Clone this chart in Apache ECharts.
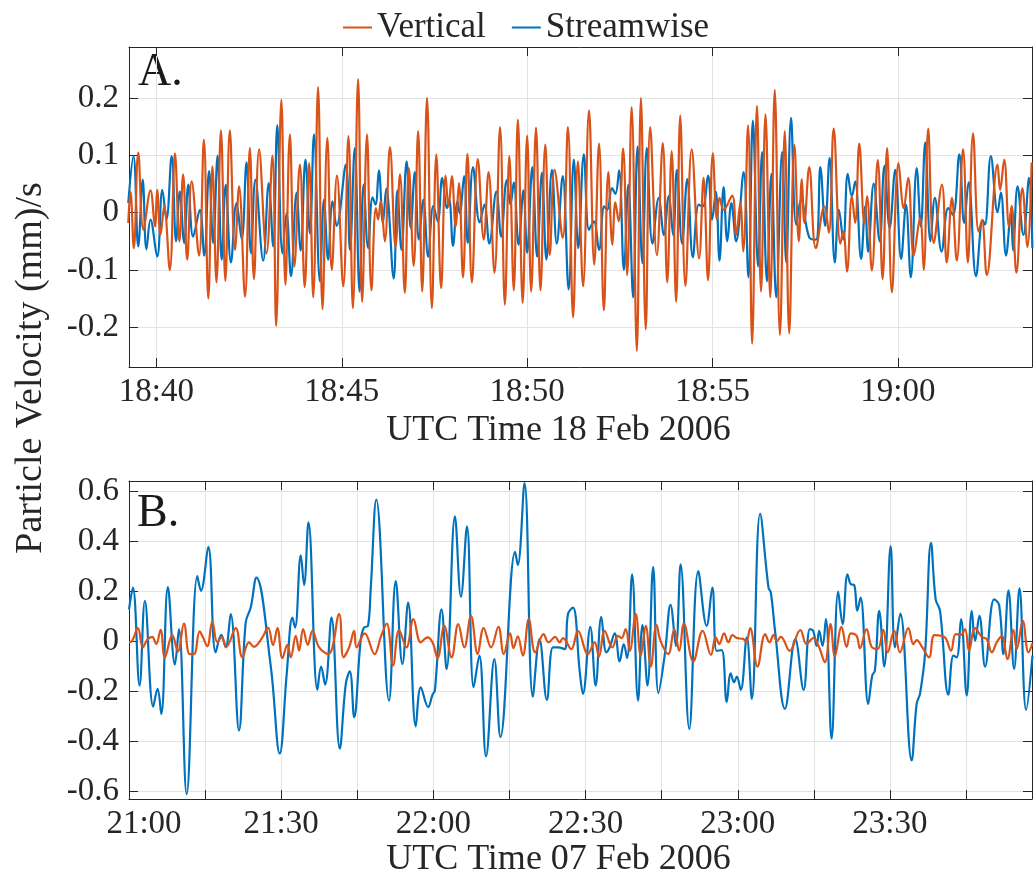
<!DOCTYPE html>
<html>
<head>
<meta charset="utf-8">
<title>Particle Velocity</title>
<script src="https://cdn.jsdelivr.net/npm/echarts@6/dist/echarts.min.js"></script>
<style>
  html, body { margin: 0; padding: 0; background: #fff; }
  #main { width: 1034px; height: 879px; }
</style>
</head>
<body>
<div id="main"></div>
<script>
// panel A: x = minutes after 18:00 UTC, 18 Feb 2006
var ticksA = [40, 45, 50, 55, 60];
var yTicksA = [-0.2, -0.1, 0, 0.1, 0.2];
// panel B: x = minutes after 21:00 UTC, 07 Feb 2006
var ticksB = [0, 15, 30, 45, 60, 75, 90, 105, 120, 135, 150, 165];
var labelsB = [0, 30, 60, 90, 120, 150];
var yTicksB = [-0.6, -0.4, -0.2, 0, 0.2, 0.4, 0.6];

// [minute, mm/s]
var vertA = [
  [39.24,-0.018],[39.30,0.037],[39.39,-0.062],[39.51,0.105],[39.65,-0.030],[39.84,0.039],[39.96,-0.024],[40.02,0.040],
  [40.11,-0.039],[40.21,0.011],[40.36,-0.100],[40.50,0.104],[40.62,-0.050],[40.72,0.067],[40.83,-0.082],[40.95,0.055],
  [41.15,-0.075],[41.28,0.128],[41.40,-0.150],[41.51,0.081],[41.62,-0.122],[41.74,0.144],[41.86,-0.119],[41.98,0.144],
  [42.12,-0.065],[42.23,0.046],[42.39,-0.147],[42.52,0.113],[42.63,-0.116],[42.77,0.111],[42.97,-0.071],[43.13,0.100],
  [43.23,-0.198],[43.37,0.198],[43.48,-0.126],[43.60,0.137],[43.72,-0.094],[43.87,0.084],[44.00,-0.130],[44.12,0.087],
  [44.23,-0.148],[44.36,0.220],[44.48,-0.169],[44.61,0.131],[44.73,-0.100],[44.87,0.065],[45.04,-0.129],[45.18,0.134],
  [45.30,-0.167],[45.44,0.234],[45.55,-0.156],[45.68,0.137],[45.80,-0.136],[45.92,0.008],[45.98,-0.012],[46.05,0.020],
  [46.16,-0.050],[46.30,0.115],[46.45,-0.059],[46.57,0.067],[46.70,-0.140],[46.81,0.078],[46.94,-0.093],[47.06,0.143],
  [47.17,-0.138],[47.30,0.201],[47.43,-0.167],[47.55,0.102],[47.68,-0.132],[47.80,0.065],[47.88,0.011],[47.97,0.064],
  [48.07,-0.024],[48.16,0.052],[48.27,-0.113],[48.39,0.103],[48.51,-0.122],[48.67,0.094],[48.83,-0.047],[48.96,0.071],
  [49.12,-0.105],[49.27,0.150],[49.40,-0.161],[49.52,0.099],[49.64,-0.136],[49.75,0.163],[49.88,-0.158],[50.00,0.135],
  [50.11,-0.138],[50.24,0.149],[50.36,-0.136],[50.49,0.119],[50.61,-0.074],[50.74,0.075],[50.96,-0.044],[51.10,0.150],
  [51.24,-0.183],[51.37,0.090],[51.51,-0.129],[51.67,0.179],[51.81,-0.091],[51.94,0.121],[52.07,-0.171],[52.19,0.071],
  [52.30,-0.056],[52.38,0.018],[52.47,-0.015],[52.59,0.112],[52.70,-0.109],[52.82,0.185],[52.96,-0.242],[53.07,0.201],
  [53.20,-0.204],[53.32,0.150],[53.50,-0.074],[53.66,0.122],[53.78,-0.122],[53.90,0.108],[54.02,-0.156],[54.13,0.170],
  [54.27,-0.128],[54.44,0.111],[54.64,-0.080],[54.76,0.061],[54.88,-0.118],[55.01,0.104],[55.12,-0.012],[55.19,0.026],
  [55.30,0.005],[55.53,0.030],[55.64,-0.039],[55.75,0.017],[55.83,-0.068],[55.96,0.153],[56.07,-0.229],[56.20,0.187],
  [56.31,-0.138],[56.43,0.172],[56.56,-0.148],[56.68,0.215],[56.82,-0.214],[56.95,0.143],[57.07,-0.211],[57.21,0.119],
  [57.33,-0.050],[57.41,0.059],[57.48,-0.018],[57.61,0.080],[57.79,-0.062],[58.02,0.011],[58.14,-0.035],[58.27,0.147],
  [58.45,-0.054],[58.53,-0.033],[58.63,-0.103],[58.76,0.029],[58.85,-0.018],[58.96,0.121],[59.10,-0.019],[59.17,0.029],
  [59.30,-0.101],[59.46,0.092],[59.59,-0.116],[59.71,0.113],[59.84,-0.139],[60.02,0.087],[60.16,0.008],[60.28,0.061],
  [60.43,-0.075],[60.60,-0.009],[60.70,-0.100],[60.82,0.147],[60.97,-0.053],[61.19,0.049],[61.32,-0.087],[61.46,0.026],
  [61.59,-0.084],[61.76,0.111],[61.89,-0.087],[62.03,0.139],[62.18,-0.033],[62.27,-0.013],[62.40,-0.109],[62.69,0.084],
  [62.76,0.040],[62.87,0.093],[63.00,-0.024],[63.07,0.012],[63.20,-0.105],[63.36,0.043],[63.50,-0.060],[63.61,0.088]
];
var streamA = [
  [39.24,0.017],[39.38,0.099],[39.51,-0.059],[39.63,0.058],[39.73,-0.064],[39.84,-0.012],[40.02,-0.077],[40.16,0.040],
  [40.27,-0.012],[40.41,0.099],[40.53,-0.050],[40.63,0.037],[40.75,-0.053],[40.86,0.049],[40.99,-0.042],[41.17,0.005],
  [41.29,-0.075],[41.42,0.073],[41.53,-0.053],[41.65,0.100],[41.76,-0.082],[41.87,0.049],[42.01,-0.087],[42.16,0.017],
  [42.30,-0.046],[42.43,0.088],[42.55,-0.071],[42.67,0.058],[42.88,-0.084],[43.03,0.052],[43.15,-0.059],[43.26,0.153],
  [43.40,-0.071],[43.51,-0.001],[43.63,-0.111],[43.78,0.035],[43.89,-0.066],[44.02,0.093],[44.14,-0.036],[44.25,0.137],
  [44.41,-0.120],[44.52,0.023],[44.63,-0.082],[44.75,0.020],[44.86,-0.023],[45.11,0.084],[45.22,-0.065],[45.35,0.113],
  [45.48,-0.138],[45.59,0.049],[45.71,-0.062],[45.83,0.027],[45.91,0.014],[46.00,0.074],[46.11,-0.018],[46.20,0.042],
  [46.40,-0.115],[46.50,0.039],[46.61,-0.065],[46.75,0.090],[46.86,-0.027],[46.97,0.071],[47.08,-0.047],[47.20,0.023],
  [47.33,-0.077],[47.47,0.012],[47.59,-0.015],[47.71,0.061],[47.84,0.008],[47.90,0.023],[48.00,-0.058],[48.12,0.020],
  [48.18,-0.001],[48.30,0.064],[48.40,-0.053],[48.54,0.080],[48.72,-0.017],[48.85,0.014],[48.98,-0.054],[49.17,0.037],
  [49.30,-0.042],[49.45,0.057],[49.55,0.014],[49.64,0.053],[49.77,-0.056],[49.90,0.039],[50.00,-0.070],[50.14,0.080],
  [50.27,-0.077],[50.40,0.070],[50.52,-0.082],[50.67,0.075],[50.80,-0.054],[50.96,0.064],[51.12,-0.134],[51.26,0.093],
  [51.38,-0.062],[51.53,0.102],[51.67,-0.030],[51.80,-0.015],[51.94,-0.065],[52.08,0.011],[52.16,0.005],[52.29,0.043],
  [52.38,0.033],[52.48,0.074],[52.61,-0.100],[52.73,0.049],[52.86,-0.148],[52.98,0.116],[53.11,-0.088],[53.23,0.113],
  [53.38,-0.054],[53.55,0.026],[53.69,-0.039],[53.82,0.029],[53.94,-0.039],[54.04,0.075],[54.18,-0.054],[54.32,0.059],
  [54.47,-0.078],[54.63,0.014],[54.74,0.011],[54.88,0.065],[54.99,-0.012],[55.09,0.037],[55.19,-0.084],[55.30,0.045],
  [55.40,-0.050],[55.51,0.017],[55.64,-0.050],[55.84,0.071],[55.97,-0.113],[56.09,0.161],[56.23,-0.094],[56.34,0.106],
  [56.47,-0.120],[56.59,0.068],[56.72,-0.148],[56.88,0.106],[56.99,-0.087],[57.12,0.166],[57.26,-0.021],[57.39,0.023],
  [57.61,-0.043],[57.79,-0.047],[57.91,0.080],[58.04,-0.023],[58.16,0.096],[58.30,-0.087],[58.41,0.005],[58.53,-0.047],
  [58.65,0.068],[58.76,0.029],[58.85,0.055],[59.01,-0.081],[59.12,0.011],[59.20,-0.068],[59.35,0.051],[59.51,-0.050],
  [59.64,0.082],[59.78,-0.027],[59.93,0.075],[60.09,-0.081],[60.22,0.014],[60.35,-0.113],[60.51,0.078],[60.62,-0.024],
  [60.74,0.123],[60.88,-0.050],[61.00,0.026],[61.18,-0.068],[61.36,0.008],[61.49,-0.004],[61.66,0.102],[61.79,-0.018],
  [61.91,0.053],[62.11,-0.111],[62.29,-0.013],[62.35,-0.021],[62.51,0.099],[62.69,0.001],[62.78,0.035],[62.92,-0.075],
  [63.05,-0.001],[63.11,-0.066],[63.23,0.046],[63.39,-0.039],[63.54,0.061],[63.63,-0.062]
];
var vertB = [
  [0,-0.005],[0.63,0.001],[1.75,0.052],[2.74,-0.025],[3.59,0.005],[4.58,0.017],[5.37,-0.012],[6.22,0.045],
  [7.08,-0.065],[8.53,0.024],[9.64,-0.042],[10.83,0.070],[11.95,-0.052],[12.80,-0.052],[13.92,0.039],[14.58,0.015],
  [15.43,-0.021],[16.42,0.078],[17.41,-0.005],[18.26,0.015],[19.18,-0.023],[21.03,0.052],[22.34,-0.065],[23.66,-0.005],
  [24.64,-0.023],[26.29,0.015],[27.41,0.054],[28.39,-0.016],[29.25,0.052],[30.24,-0.068],[31.22,-0.015],[31.88,-0.065],
  [32.87,0.021],[33.53,-0.038],[34.32,0.048],[35.24,-0.015],[36.16,0.041],[37.47,-0.025],[39.32,-0.052],[41.42,0.108],
  [42.28,-0.065],[43.39,-0.025],[44.38,0.041],[44.86,-0.025],[46.45,0.031],[48.42,-0.052],[49.61,0.015],[50.80,0.070],
  [52.05,-0.098],[53.24,0.044],[54.69,-0.025],[56.07,0.088],[57.52,-0.005],[58.84,0.015],[59.83,-0.005],[60.82,-0.068],
  [62.14,0.061],[63.59,-0.065],[64.90,0.068],[66.09,-0.025],[67.41,0.101],[68.73,-0.052],[69.91,0.052],[71.37,-0.025],
  [72.82,0.057],[73.87,-0.052],[75.12,0.031],[75.78,-0.028],[76.64,0.019],[77.63,-0.058],[78.81,0.088],[80.07,-0.045],
  [81.71,0.028],[82.70,-0.005],[84.02,0.017],[84.88,-0.005],[85.54,0.012],[87.19,-0.032],[88.50,0.041],[90.47,-0.052],
  [91.78,-0.005],[92.64,-0.062],[93.76,0.041],[95.28,-0.025],[96.40,0.021],[97.06,0.012],[97.91,0.048],[98.71,-0.039],
  [99.89,0.108],[100.88,-0.058],[101.87,0.061],[102.86,-0.102],[103.98,0.065],[104.77,0.001],[106.29,-0.052],[107.47,0.047],
  [108.46,-0.039],[109.38,0.070],[111.23,-0.081],[113.08,0.041],[114.72,-0.055],[115.65,0.015],[116.37,-0.012],[117.30,0.031],
  [118.15,-0.005],[118.94,0.024],[119.80,0.012],[121.12,0.008],[121.65,-0.005],[122.44,0.052],[123.89,-0.102],[125.40,0.028],
  [126.26,-0.005],[127.05,0.025],[127.71,0.001],[128.50,0.017],[130.22,-0.039],[132.33,0.044],[133.55,-0.012],[134.87,0.012],
  [135.99,-0.023],[137.17,-0.085],[138.29,0.068],[139.14,-0.062],[140.46,0.057],[141.45,-0.023],[142.30,0.031],[143.42,0.021],
  [144.08,-0.029],[145.39,0.048],[146.38,-0.023],[147.57,-0.032],[148.68,0.045],[149.54,-0.045],[150.86,0.041],[151.97,-0.045],
  [153.62,0.052],[154.61,-0.012],[155.26,0.004],[156.38,-0.025],[157.70,-0.065],[158.75,0.024],[160.07,0.021],[160.99,0.012],
  [162.04,-0.039],[162.96,0.028],[164.01,0.025],[164.80,0.048],[165.59,-0.039],[166.78,0.052],[168.09,0.017],[169.08,0.008],
  [170.07,-0.045],[171.05,-0.005],[172.04,0.021],[173.16,-0.072],[174.34,0.045],[175.00,-0.032],[176.18,0.081],[177.30,-0.045],
  [178.09,-0.009]
];
var streamB = [
  [0,0.127],[0.76,0.214],[2.08,-0.178],[3.13,0.161],[4.78,-0.262],[5.63,-0.191],[6.36,-0.291],[7.67,0.216],
  [9.05,-0.094],[9.84,0.048],[11.36,-0.612],[13.46,0.260],[14.18,0.201],[15.63,0.377],[17.08,-0.045],[18.20,0.025],
  [19.05,-0.025],[20.04,0.108],[21.68,-0.357],[23.00,0.074],[23.99,0.134],[25.11,0.254],[27.93,-0.098],[29.71,-0.450],
  [31.09,-0.131],[32.21,0.094],[32.74,0.054],[33.86,0.343],[34.51,0.224],[35.37,0.475],[37.14,-0.195],[37.87,-0.102],
  [38.66,-0.174],[39.91,0.094],[41.55,-0.430],[42.74,-0.171],[43.53,-0.121],[44.38,-0.304],[45.66,0.001],[46.32,0.054],
  [47.11,0.061],[47.63,0.201],[48.75,0.566],[51.26,-0.238],[52.58,0.240],[53.90,-0.092],[55.02,0.154],[56.53,-0.341],
  [57.52,-0.185],[58.97,-0.264],[59.83,-0.214],[60.29,-0.198],[61.61,0.127],[62.60,-0.112],[64.25,0.499],[65.43,0.177],
  [66.62,0.459],[67.94,-0.185],[69.06,-0.058],[70.38,-0.461],[72.02,-0.072],[73.21,-0.384],[76.11,0.357],[76.64,0.304],
  [77.96,0.632],[79.60,-0.222],[80.92,0.008],[82.37,-0.235],[83.56,-0.025],[84.55,-0.025],[85.87,-0.032],[86.53,0.108],
  [87.52,0.134],[88.83,-0.118],[89.48,-0.211],[90.93,0.057],[91.98,-0.178],[93.10,0.097],[94.09,-0.045],[94.75,-0.025],
  [95.74,0.031],[96.73,-0.081],[97.52,-0.012],[98.18,-0.068],[99.17,0.267],[100.35,-0.238],[101.21,0.065],[102.20,-0.178],
  [103.32,0.296],[104.37,-0.208],[105.63,-0.052],[106.75,0.145],[107.80,-0.019],[108.73,0.307],[110.44,-0.351],[112.22,0.280],
  [113.87,0.061],[114.99,0.214],[115.84,-0.039],[116.83,-0.036],[117.82,-0.244],[118.61,-0.129],[119.27,-0.165],[119.80,-0.142],
  [120.59,-0.195],[121.78,0.015],[122.77,-0.231],[124.41,0.509],[126.06,0.214],[126.52,0.194],[127.38,0.035],[129.29,-0.271],
  [131.34,0.008],[132.98,-0.195],[134.21,0.048],[134.87,0.041],[135.53,-0.019],[136.05,0.041],[136.71,-0.019],[137.37,0.088],
  [138.49,-0.390],[139.80,0.198],[140.66,0.068],[141.64,0.267],[142.30,0.227],[142.96,0.224],[143.55,0.121],[144.21,0.174],
  [145.72,-0.251],[146.51,-0.138],[147.04,-0.118],[147.89,0.121],[148.88,-0.102],[150.13,0.380],[150.99,-0.025],[152.04,0.110],
  [154.28,-0.477],[155.26,-0.251],[155.92,-0.211],[156.91,-0.052],[158.09,0.393],[159.01,0.167],[159.87,0.121],[161.51,-0.214],
  [162.50,-0.058],[163.16,-0.065],[164.01,0.088],[165.13,-0.218],[166.12,0.121],[166.78,0.001],[167.63,0.101],[168.75,-0.102],
  [170.53,0.167],[171.51,0.145],[172.37,-0.052],[173.36,0.203],[174.47,-0.112],[175.53,0.211],[176.84,-0.275],[178.09,-0.058]
];

var ORANGE = '#D95319', BLUE = '#0072BD';
var INK = '#262626', GRID = '#e3e3e3';
var FONT = 'Liberation Serif';

function pad(n) { return (n < 10 ? '0' : '') + n; }
function hhmm(base, v) {
  var h = base + Math.floor(v / 60);
  var m = Math.round(v - Math.floor(v / 60) * 60);
  return h + ':' + pad(m);
}
function yfmt(v) { return String(Math.round(v * 10) / 10); }

var labelFont = { fontFamily: FONT, fontSize: 33, color: INK };

function xAxisPair(grid, min, max, ticks, labels, fmt, name, gap) {
  var line = { show: true, onZero: false, lineStyle: { color: INK, width: 1 } };
  return [{
    gridIndex: grid, type: 'value', position: 'bottom', min: min, max: max,
    axisLine: line,
    axisTick: { inside: true, length: 9, customValues: ticks, lineStyle: { color: INK } },
    axisLabel: Object.assign({ customValues: labels, formatter: fmt, margin: 9,
      rich: { s: { fontFamily: FONT, fontSize: 33, color: INK, padding: [0, 0, 0, 30] } } }, labelFont),
    splitLine: { show: true, lineStyle: { color: GRID, width: 1 } },
    name: name, nameLocation: 'middle', nameGap: gap,
    nameTextStyle: { fontFamily: FONT, fontSize: 36, color: INK, padding: [0, 44, 0, 0] }
  }, {
    gridIndex: grid, type: 'value', position: 'top', min: min, max: max,
    axisLine: line,
    axisTick: { inside: true, length: 9, customValues: ticks, lineStyle: { color: INK } },
    axisLabel: { show: false }, splitLine: { show: false }
  }];
}
function yAxisPair(grid, min, max, ticks) {
  var line = { show: true, onZero: false, lineStyle: { color: INK, width: 1 } };
  return [{
    gridIndex: grid, type: 'value', position: 'left', min: min, max: max,
    axisLine: line,
    axisTick: { inside: true, length: 9, customValues: ticks, lineStyle: { color: INK } },
    axisLabel: Object.assign({ customValues: ticks, formatter: yfmt, margin: 10 }, labelFont),
    splitLine: { show: true, lineStyle: { color: GRID, width: 1 } }
  }, {
    gridIndex: grid, type: 'value', position: 'right', min: min, max: max,
    axisLine: line,
    axisTick: { inside: true, length: 9, customValues: ticks, lineStyle: { color: INK } },
    axisLabel: { show: false }, splitLine: { show: false }
  }];
}

function lineSeries(name, color, data, ax, z) {
  return {
    name: name, type: 'line', xAxisIndex: ax, yAxisIndex: ax, data: data,
    symbol: 'none', smooth: 0.4, z: z,
    lineStyle: { color: color, width: 2.2 }, itemStyle: { color: color }
  };
}

var chart = echarts.init(document.getElementById('main'));
chart.setOption({
  animation: false,
  backgroundColor: '#fff',
  legend: {
    data: ['Vertical', 'Streamwise'],
    left: 338, top: 5, icon: 'rect', itemWidth: 29, itemHeight: 2, itemGap: 26,
    textStyle: { fontFamily: FONT, fontSize: 35, color: INK }
  },
  grid: [
    { left: 129, right: 2, top: 47, height: 320 },
    { left: 129, right: 2, top: 481, height: 320 }
  ],
  xAxis: xAxisPair(0, 39.26, 63.62, ticksA, ticksA, function (v) { return hhmm(18, v); },
      'UTC Time 18 Feb 2006', 46)
    .concat(xAxisPair(1, 0, 178, ticksB, labelsB, function (v) {
      return v === 0 ? '{s|' + hhmm(21, v) + '}' : hhmm(21, v);
    }, 'UTC Time 07 Feb 2006', 36)),
  yAxis: yAxisPair(0, -0.27, 0.29, yTicksA).concat(yAxisPair(1, -0.632, 0.64, yTicksB)),
  series: [
    lineSeries('Streamwise', BLUE, streamA, 0, 2),
    lineSeries('Vertical', ORANGE, vertA, 0, 3),
    lineSeries('Streamwise', BLUE, streamB, 2, 2),
    lineSeries('Vertical', ORANGE, vertB, 2, 3)
  ],
  graphic: [
    { type: 'text', left: 138, top: 50, style: { text: 'A.', fontFamily: FONT, fontSize: 46, fill: '#1a1a1a' } },
    { type: 'text', left: 137, top: 491, style: { text: 'B.', fontFamily: FONT, fontSize: 46, fill: '#1a1a1a' } },
    { type: 'text', x: 31, y: 368, rotation: Math.PI / 2,
      style: { text: 'Particle Velocity (mm)/s', fontFamily: FONT, fontSize: 38, fill: INK,
               align: 'center', verticalAlign: 'middle' } }
  ]
});
</script>
</body>
</html>
